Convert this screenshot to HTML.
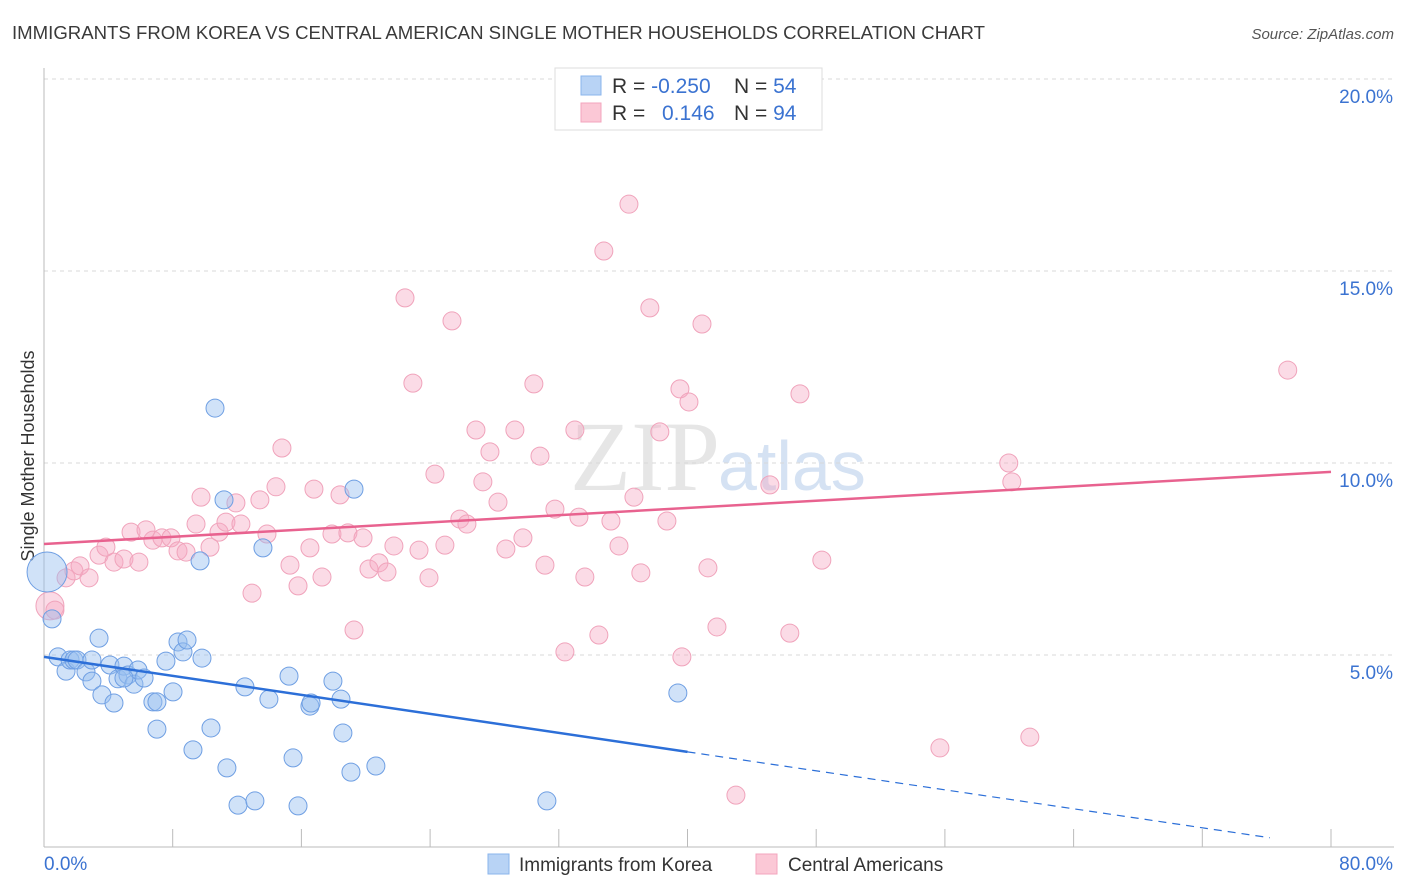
<!DOCTYPE html>
<html><head><meta charset="utf-8">
<style>
body{margin:0;background:#fff;font-family:"Liberation Sans",sans-serif;}
svg{display:block}
</style></head>
<body>
<svg width="1406" height="892" viewBox="0 0 1406 892">
<text x="12" y="39" font-size="18" fill="#3a3a3a" textLength="973" lengthAdjust="spacingAndGlyphs">IMMIGRANTS FROM KOREA VS CENTRAL AMERICAN SINGLE MOTHER HOUSEHOLDS CORRELATION CHART</text>
<text x="1394" y="39" font-size="15" fill="#555" font-style="italic" text-anchor="end">Source: ZipAtlas.com</text>
<text x="720" y="490" font-size="100" fill="#e6e6e6" text-anchor="end" font-family="Liberation Serif,serif">ZIP</text>
<text x="718" y="490" font-size="70" fill="#d5e2f3">atlas</text>
<g id="grid"></g>
<g id="axes"></g>
<text transform="translate(34,456) rotate(-90)" font-size="18" fill="#333" text-anchor="middle">Single Mother Households</text>
<g id="pts"></g>
<g id="lines"></g>
<g>
<rect x="555" y="68" width="267" height="62" fill="#fff" stroke="#ddd"/>
<rect x="581" y="76" width="20" height="19" fill="#b8d3f5" stroke="#8ab4ec"/>
<rect x="581" y="103" width="20" height="19" fill="#fbc8d6" stroke="#f3a5bd"/>
<text x="612" y="93" font-size="21" fill="#333">R = <tspan fill="#3b73d1">-0.250</tspan></text>
<text x="734" y="93" font-size="21" fill="#333">N = <tspan fill="#3b73d1">54</tspan></text>
<text x="612" y="120" font-size="21" fill="#333">R = </text>
<text x="662" y="120" font-size="21" fill="#3b73d1">0.146</text>
<text x="734" y="120" font-size="21" fill="#333">N = <tspan fill="#3b73d1">94</tspan></text>
</g>
<g>
<rect x="488" y="854" width="21" height="20" fill="#b8d3f5" stroke="#8ab4ec"/>
<text x="519" y="871" font-size="19" fill="#333">Immigrants from Korea</text>
<rect x="756" y="854" width="21" height="20" fill="#fbc8d6" stroke="#f3a5bd"/>
<text x="788" y="871" font-size="19" fill="#333">Central Americans</text>
</g>
</svg>
<script>
const xTicks=[0,8,16,24,32,40,48,56,64,72,80];
const yTicks=[5,10,15,20];
const xLabels=["0.0%","80.0%"];
const koreaX=[0.19,0.50,0.87,1.37,1.62,1.86,2.05,2.61,2.98,3.42,3.60,4.10,4.35,4.60,4.97,5.22,5.59,5.84,6.22,6.77,7.02,7.58,8.02,8.33,8.64,8.89,9.26,9.70,9.82,10.38,10.63,11.19,11.37,12.06,12.49,13.11,13.61,13.98,15.23,15.48,15.79,16.53,16.60,17.96,18.46,18.58,19.08,19.27,20.63,31.26,39.40,7.02,4.97,2.98];
const koreaY=[7.16,5.94,4.95,4.58,4.87,4.87,4.87,4.56,4.32,5.44,3.96,4.74,3.75,4.38,4.71,4.48,4.24,4.61,4.40,3.78,3.07,4.84,4.04,5.34,5.08,5.39,2.53,7.45,4.92,3.10,11.43,9.04,2.06,1.09,4.17,1.20,7.79,3.85,4.45,2.32,1.07,3.67,3.75,4.32,3.85,2.97,1.95,9.32,2.11,1.20,4.01,3.78,4.40,4.87];
const centralX=[0.37,0.68,1.37,1.86,2.24,2.80,3.42,3.85,4.35,4.97,5.41,5.90,6.34,6.77,7.33,7.89,8.33,8.83,9.45,9.76,10.32,10.88,11.31,11.93,12.24,12.93,13.42,13.86,14.42,14.79,15.29,15.79,16.53,16.78,17.28,17.90,18.40,18.89,19.27,19.83,20.20,20.82,21.32,21.75,22.44,22.93,23.31,23.93,24.30,24.92,25.36,25.85,26.29,26.85,27.28,27.72,28.22,28.71,29.27,29.77,30.45,30.83,31.14,31.76,32.38,33.00,33.25,33.62,34.49,34.80,35.24,35.74,36.36,36.67,37.10,37.66,38.28,38.72,39.53,39.65,40.09,40.90,41.27,41.83,43.01,45.12,46.36,46.99,48.35,55.69,59.97,60.16,61.28,77.31];
const centralY=[6.28,6.17,7.01,7.19,7.32,7.01,7.60,7.81,7.42,7.50,8.20,7.42,8.26,7.99,8.05,8.05,7.71,7.68,8.41,9.11,7.81,8.20,8.46,8.96,8.41,6.61,9.04,8.15,9.38,10.39,7.34,6.80,7.79,9.32,7.03,8.15,9.17,8.18,5.65,8.05,7.24,7.40,7.16,7.84,14.30,12.08,7.73,7.01,9.71,7.86,13.70,8.54,8.41,10.86,9.51,10.29,8.98,7.76,10.86,8.05,12.06,10.18,7.34,8.80,5.08,10.86,8.59,7.03,5.52,15.52,8.49,7.84,16.74,9.11,7.14,14.04,10.81,8.49,11.93,4.95,11.59,13.62,7.27,5.73,1.35,9.43,5.57,11.80,7.47,2.58,10.00,9.51,2.86,12.42];
const koreaTrend=[4.95,-0.0618];
const centralTrend=[7.89,0.0235];
const NS="http://www.w3.org/2000/svg";
const sx=v=>44+v*(1287/80);
const sy=v=>847-v*38.4;
function mk(tag,attrs,parent){const e=document.createElementNS(NS,tag);for(const k in attrs)e.setAttribute(k,attrs[k]);parent.appendChild(e);return e;}
const grid=document.getElementById('grid'),axes=document.getElementById('axes'),pts=document.getElementById('pts'),lines=document.getElementById('lines');
yTicks.forEach(t=>{
 const l=mk('line',{x1:44,x2:1394,y1:sy(t),y2:sy(t),stroke:'#d8d8d8','stroke-dasharray':'4,4'},grid);
 
 
 const tx=mk('text',{x:1393,y:sy(t)+24,'font-size':19,fill:'#3b73d1','text-anchor':'end'},grid);
 tx.textContent=t.toFixed(1)+'%';
 
 
});
const ya=mk('line',{x1:44,x2:44,y1:68,y2:847,stroke:'#bbb'},axes);


const xa=mk('line',{x1:44,x2:1394,y1:847,y2:847,stroke:'#bbb'},axes);


xTicks.forEach(t=>{
 const l=mk('line',{x1:sx(t),x2:sx(t),y1:829,y2:847,stroke:'#bbb'},axes);
 
 
});
const xl0=mk('text',{x:44,y:870,'font-size':19,fill:'#3b73d1'},axes);xl0.textContent=xLabels[0];


const xl1=mk('text',{x:1393,y:870,'font-size':19,fill:'#3b73d1','text-anchor':'end'},axes);xl1.textContent=xLabels[1];


function dots(X,Y,fill,stroke,name){X.forEach((x,i)=>{
 const r=i===0?(name==='point-korea'?20:14):9;
 const c=mk('circle',{cx:sx(x),cy:sy(Y[i]),r:r,fill:fill,stroke:stroke,'stroke-width':1},pts);
 
 
});}
dots(centralX,centralY,'rgba(246,170,196,0.42)','#f0a3bb','point-central');
dots(koreaX,koreaY,'rgba(150,190,240,0.45)','#6f9fe3','point-korea');
const kb=mk('line',{x1:sx(0),y1:sy(koreaTrend[0]),x2:sx(40),y2:sy(koreaTrend[0]+koreaTrend[1]*40),stroke:'#2c6fd8','stroke-width':2.5},lines);


const kd=mk('line',{x1:sx(40),y1:sy(koreaTrend[0]+koreaTrend[1]*40),x2:sx(76.2),y2:sy(koreaTrend[0]+koreaTrend[1]*76.2),stroke:'#2c6fd8','stroke-width':1.2,'stroke-dasharray':'8,6'},lines);


const cl=mk('line',{x1:sx(0),y1:sy(centralTrend[0]),x2:sx(80),y2:sy(centralTrend[0]+centralTrend[1]*80),stroke:'#e8628f','stroke-width':2.5},lines);


</script>
</body></html>
